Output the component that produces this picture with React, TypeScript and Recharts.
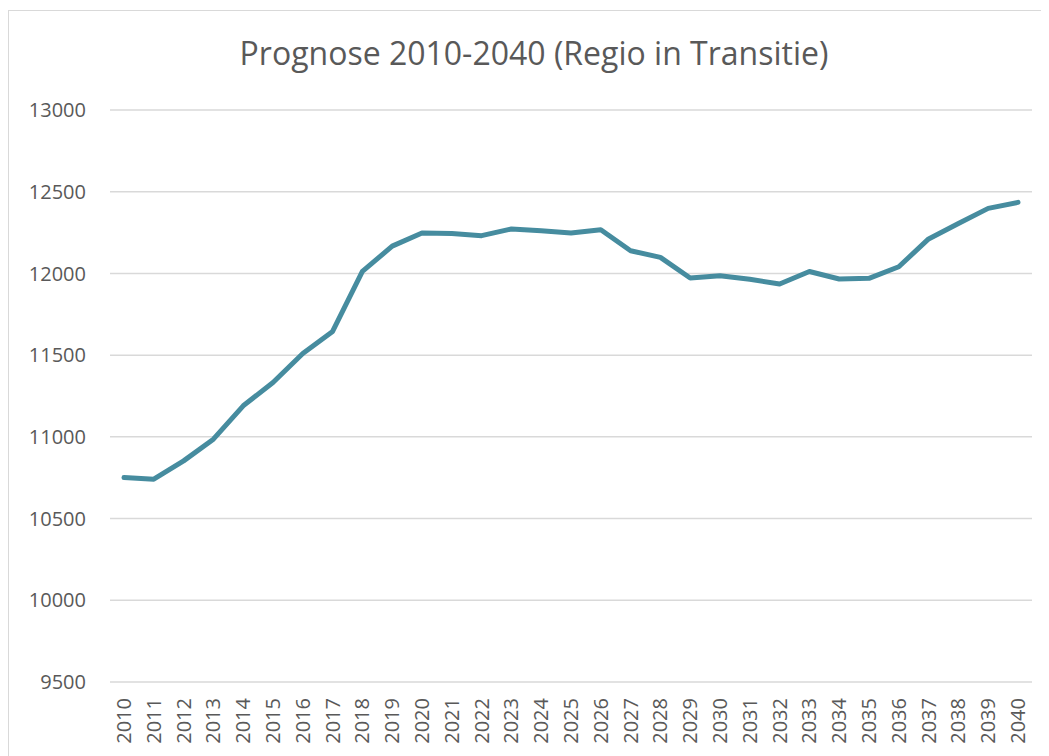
import { LineChart, Line, XAxis, YAxis, CartesianGrid } from 'recharts';

const years = [
  '2010', '2011', '2012', '2013', '2014', '2015', '2016', '2017', '2018', '2019', '2020',
  '2021', '2022', '2023', '2024', '2025', '2026', '2027', '2028', '2029', '2030',
  '2031', '2032', '2033', '2034', '2035', '2036', '2037', '2038', '2039', '2040',
];

const population = [
  10751, 10741, 10853, 10986, 11190, 11333, 11510, 11645, 12012, 12167, 12247,
  12245, 12231, 12272, 12261, 12247, 12267, 12139, 12098, 11972, 11986,
  11964, 11935, 12012, 11966, 11970, 12041, 12211, 12306, 12398, 12435,
];

const yTicks = [9500, 10000, 10500, 11000, 11500, 12000, 12500, 13000];

const data = years.map((year, i) => ({ year, value: population[i] }));

const FONT = '"Open Sans", "Noto Sans", sans-serif';
const TEXT_COLOR = '#595959';

const YearTick = ({ x, y, payload }: any) => (
  <g transform={`translate(${x},${y}) rotate(-90)`}>
    <text x={0} y={0} dy="0.35em" textAnchor="end" fill={TEXT_COLOR} fontSize={20} fontFamily={FONT}>
      {payload.value}
    </text>
  </g>
);

export default function App() {
  return (
    <div
      style={{
        position: 'relative',
        width: 1050,
        height: 750,
        marginTop: 2,
        border: '1px solid #d9d9d9',
        background: '#fff',
      }}
    >
      <div
        style={{
          position: 'absolute',
          top: 26,
          left: 0,
          width: '100%',
          textAlign: 'center',
          fontFamily: FONT,
          fontSize: 32,
          lineHeight: '32px',
          color: TEXT_COLOR,
        }}
      >
        Prognose 2010-2040 (Regio in Transitie)
      </div>
      <LineChart width={1050} height={750} data={data} margin={{ top: 99, right: 27, left: 21, bottom: 9 }}>
        <CartesianGrid vertical={false} stroke="#d9d9d9" strokeWidth={1.5} />
        <XAxis
          dataKey="year"
          interval={0}
          axisLine={false}
          tickLine={false}
          tickSize={0}
          tickMargin={16}
          height={70}
          padding={{ left: 14, right: 14 }}
          tick={<YearTick />}
        />
        <YAxis
          domain={[9500, 13000]}
          ticks={yTicks}
          interval={0}
          width={80}
          axisLine={false}
          tickLine={false}
          tickSize={0}
          tickMargin={24}
          tick={{ fill: TEXT_COLOR, fontSize: 20, fontFamily: FONT }}
        />
        <Line
          type="linear"
          dataKey="value"
          stroke="#468c9f"
          strokeWidth={5}
          strokeLinecap="round"
          strokeLinejoin="round"
          dot={false}
          isAnimationActive={false}
        />
      </LineChart>
    </div>
  );
}
